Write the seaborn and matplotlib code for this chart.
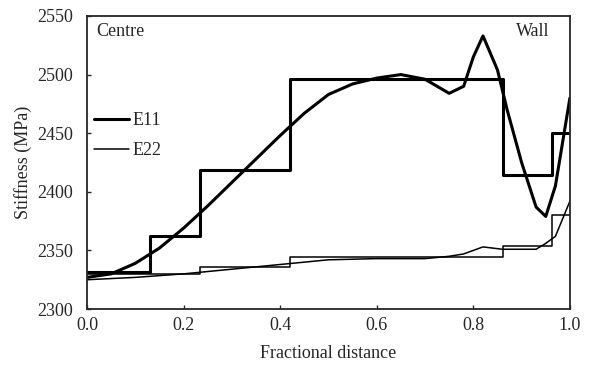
import matplotlib
matplotlib.use("Agg")
import matplotlib.pyplot as plt
import seaborn as sns

# Step (layer-averaged) values
e11_step_x = [0.0, 0.13, 0.235, 0.42, 0.862, 0.963, 1.0]
e11_step_y = [2332, 2362, 2419, 2496, 2414, 2450, 2450]
e22_step_x = [0.0, 0.235, 0.42, 0.862, 0.963, 1.0]
e22_step_y = [2330, 2336, 2344, 2354, 2380, 2380]

# Smooth through-thickness curves
e11_x = [0.0, 0.05, 0.1, 0.15, 0.2, 0.25, 0.3, 0.35, 0.4, 0.45, 0.5, 0.55,
         0.6, 0.65, 0.7, 0.75, 0.78, 0.8, 0.82, 0.85, 0.87, 0.9, 0.93, 0.95,
         0.97, 1.0]
e11_y = [2327, 2330, 2339, 2352, 2369, 2388, 2408, 2428, 2448, 2467, 2483,
         2492, 2497, 2500, 2496, 2484, 2490, 2515, 2533, 2504, 2470, 2425,
         2387, 2379, 2405, 2480]
e22_x = [0.0, 0.1, 0.2, 0.3, 0.4, 0.5, 0.6, 0.7, 0.75, 0.78, 0.82, 0.86,
         0.93, 0.95, 0.97, 1.0]
e22_y = [2325, 2327, 2330, 2334, 2338, 2342, 2343, 2343, 2345, 2347, 2353,
         2351, 2351, 2356, 2362, 2392]

xticks = [0.0, 0.2, 0.4, 0.6, 0.8, 1.0]
yticks = [2300, 2350, 2400, 2450, 2500, 2550]

sns.set_style("ticks")
plt.rcParams["font.family"] = ["Liberation Serif", "DejaVu Serif"]
plt.rcParams["xtick.direction"] = "in"
plt.rcParams["ytick.direction"] = "in"

fig = plt.figure(figsize=(5.98, 3.71), dpi=100)
ax = fig.add_axes([0.1455, 0.167, 0.8075, 0.79])

sns.lineplot(x=e11_step_x, y=e11_step_y, ax=ax, color="black", lw=2.2,
             drawstyle="steps-post", sort=False)
sns.lineplot(x=e22_step_x, y=e22_step_y, ax=ax, color="black", lw=1.1,
             drawstyle="steps-post", sort=False)
sns.lineplot(x=e11_x, y=e11_y, ax=ax, color="black", lw=2.2, sort=False,
             label="E11")
sns.lineplot(x=e22_x, y=e22_y, ax=ax, color="black", lw=1.1, sort=False,
             label="E22")

ax.set_xlim(0, 1)
ax.set_ylim(2300, 2550)
ax.set_xticks(xticks)
ax.set_xticklabels([f"{t:.1f}" for t in xticks])
ax.set_yticks(yticks)
ax.tick_params(labelsize=13, length=3, width=1)
ax.tick_params(axis="x", pad=6)
ax.tick_params(axis="y", pad=10)
for s in ax.spines.values():
    s.set_linewidth(1.3)
    s.set_visible(True)

ax.set_xlabel("Fractional distance", fontsize=13, labelpad=8)
ax.set_ylabel("Stiffness (MPa)", fontsize=13, labelpad=4)

ax.text(0.02, 2537, "Centre", fontsize=13, va="center", ha="left")
ax.text(0.958, 2537, "Wall", fontsize=13, va="center", ha="right")

ax.legend(loc="upper left", bbox_to_anchor=(0.015, 0.672), frameon=False,
          fontsize=13, handlelength=1.9, handletextpad=0.2, labelspacing=0.72,
          borderpad=0, borderaxespad=0)

fig.savefig("out.png", dpi=100)
